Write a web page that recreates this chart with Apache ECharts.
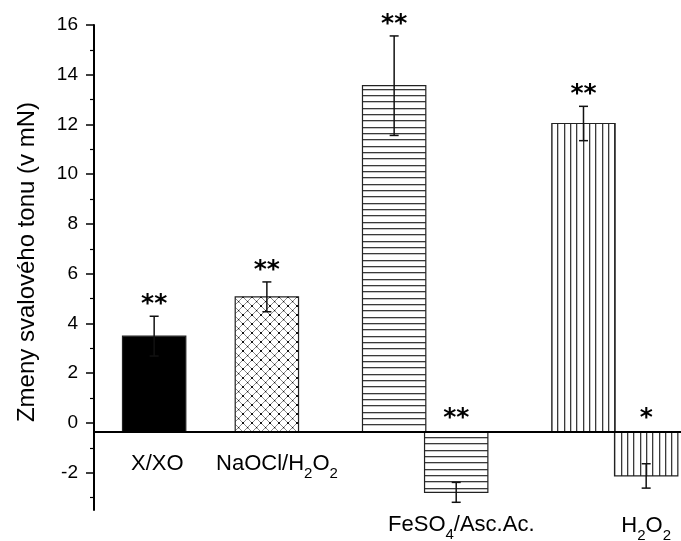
<!DOCTYPE html>
<html>
<head>
<meta charset="utf-8">
<script src="https://cdn.jsdelivr.net/npm/echarts@6/dist/echarts.min.js"></script>
<style>
html,body{margin:0;padding:0;background:#fff;}
#chart{width:681px;height:541px;}
</style>
</head>
<body>
<div id="chart"></div>
<script>
// ---- data ----
const categories = ['X/XO', 'NaOCl/H2O2', 'FeSO4/Asc.Ac.', 'H2O2'];
const barCategory = [0, 1, 2, 2, 3, 3];
const barValues = [3.49, 5.07, 13.56, -2.79, 12.04, -2.13];
const barErrors = [0.8, 0.6, 2.0, 0.4, 0.69, 0.49];
const barSignificance = ['**', '**', '**', '**', '**', '*'];
const barFill = ['solid', 'crosshatch', 'horizontal', 'horizontal', 'vertical', 'vertical'];
const yTickLabels = [-2, 0, 2, 4, 6, 8, 10, 12, 14, 16];
const yMinorTicks = [-3, -1, 1, 3, 5, 7, 9, 11, 13, 15];
const yAxisTitle = 'Zmeny svalového tonu (v mN)';
const yMin = -3.5, yMax = 16;
const baseline = -0.36;

// ---- layout (not data) ----
const layout = {
  barX: [0.95, 2.73, 4.74, 5.72, 7.73, 8.72],
  xMax: 9.27,
  catLabelBar: [0, 1, 3, 5],
  catLabelShift: [0.05, 0.16, 0.08, 0.0],
  catLabelY: [-1.74, -1.74, -4.2, -4.24]
};

// ---- patterns ----
function makePattern(kind) {
  const c = document.createElement('canvas');
  let ctx;
  if (kind === 'crosshatch') {
    c.width = 9; c.height = 9; ctx = c.getContext('2d');
    ctx.fillStyle = '#fff'; ctx.fillRect(0, 0, 9, 9);
    ctx.strokeStyle = '#8a8a8a'; ctx.lineWidth = 1;
    ctx.beginPath();
    ctx.moveTo(-1, -1); ctx.lineTo(10, 10);
    ctx.moveTo(10, -1); ctx.lineTo(-1, 10);
    ctx.stroke();
    ctx.fillStyle = '#111';
    ctx.fillRect(4, 4, 1.2, 1.2);
    ctx.fillRect(0, 0, 1, 1); ctx.fillRect(8, 0, 1, 1); ctx.fillRect(0, 8, 1, 1); ctx.fillRect(8, 8, 1, 1);
  } else if (kind === 'horizontal') {
    c.width = 4; c.height = 19; ctx = c.getContext('2d');
    ctx.fillStyle = '#fff'; ctx.fillRect(0, 0, 4, 19);
    ctx.fillStyle = '#3a3a3a';
    [0, 6, 13].forEach(y => ctx.fillRect(0, y, 4, 1.3));
  } else if (kind === 'vertical') {
    c.width = 19; c.height = 4; ctx = c.getContext('2d');
    ctx.fillStyle = '#fff'; ctx.fillRect(0, 0, 19, 4);
    ctx.fillStyle = '#3a3a3a';
    [0, 6, 13].forEach(x => ctx.fillRect(x, 0, 1.3, 4));
  }
  return { image: c, repeat: 'repeat' };
}
const fills = {
  solid: '#000',
  crosshatch: makePattern('crosshatch'),
  horizontal: makePattern('horizontal'),
  vertical: makePattern('vertical')
};

const seriesData = barValues.map((v, i) => [layout.barX[i], v, barErrors[i], i]);

function renderItem(params, api) {
  const i = api.value(3);
  const x = api.value(0), v = api.value(1), e = api.value(2);
  const left = api.coord([x - 0.5, baseline])[0];
  const right = api.coord([x + 0.5, baseline])[0];
  const cx = api.coord([x, baseline])[0];
  const yBase = api.coord([x, baseline])[1];
  const yVal = api.coord([x, v])[1];
  const yHi = api.coord([x, v + e])[1];
  const yLo = api.coord([x, v - e])[1];
  const starVal = v > 0 ? v + e + 0.68 : baseline + 0.72;
  const yStar = api.coord([x, starVal])[1];
  const cap = 4.5;
  const errStyle = { stroke: '#111', lineWidth: 1.5 };
  return {
    type: 'group',
    children: [
      {
        type: 'rect',
        shape: { x: left, y: Math.min(yBase, yVal), width: right - left, height: Math.abs(yVal - yBase) },
        style: { fill: fills[barFill[i]], stroke: '#222', lineWidth: 1.2 }
      },
      { type: 'line', shape: { x1: cx, y1: yLo, x2: cx, y2: yHi }, style: errStyle },
      { type: 'line', shape: { x1: cx - cap, y1: yHi, x2: cx + cap, y2: yHi }, style: errStyle },
      { type: 'line', shape: { x1: cx - cap, y1: yLo, x2: cx + cap, y2: yLo }, style: errStyle },
      {
        type: 'text',
        style: {
          text: barSignificance[i], x: cx, y: yStar + 5,
          font: 'bold 25px "DejaVu Sans"', fill: '#000',
          align: 'center', verticalAlign: 'middle'
        }
      }
    ]
  };
}

const chart = echarts.init(document.getElementById('chart'), null, { renderer: 'canvas' });
chart.setOption({
  animation: false,
  backgroundColor: '#fff',
  grid: { left: 94, right: 0, top: 25, bottom: 31, containLabel: false },
  xAxis: { type: 'value', min: 0, max: layout.xMax, show: false },
  yAxis: [
    {
      type: 'value', min: yMin, max: yMax, position: 'left',
      axisLine: { show: true, lineStyle: { color: '#000', width: 2 } },
      axisTick: { show: true, length: 8, inside: false, customValues: yTickLabels, lineStyle: { color: '#000', width: 1.5 } },
      axisLabel: { show: true, customValues: yTickLabels, margin: 16, color: '#000', fontSize: 19, fontFamily: '"Liberation Sans", Arial, sans-serif' },
      splitLine: { show: false }
    },
    {
      type: 'value', min: yMin, max: yMax, position: 'left',
      axisLine: { show: false },
      axisTick: { show: true, length: 4, inside: false, customValues: yMinorTicks, lineStyle: { color: '#000', width: 1.2 } },
      axisLabel: { show: false },
      splitLine: { show: false }
    }
  ],
  series: [{
    type: 'custom',
    renderItem: renderItem,
    clip: false,
    encode: { x: 0, y: 1 },
    data: seriesData,
    markLine: {
      silent: true,
      symbol: ['none', 'none'],
      label: { show: false },
      lineStyle: { color: '#000', width: 2, type: 'solid' },
      data: [{ yAxis: baseline }]
    },
    z: 2
  }]
});

function richLabel(t) {
  const parts = t.split(/(\d)/).filter(s => s.length);
  return parts.map(p => /^\d$/.test(p) ? '{s|' + p + '}' : '{m|' + p + '}').join('');
}

const graphics = [];
categories.forEach((name, k) => {
  const bx = layout.barX[layout.catLabelBar[k]] + layout.catLabelShift[k];
  const p = chart.convertToPixel({ gridIndex: 0 }, [bx, layout.catLabelY[k]]);
  graphics.push({
    type: 'text', x: p[0], y: p[1] - 13, z: 10,
    style: {
      text: richLabel(name), align: 'center', verticalAlign: 'top',
      rich: {
        m: { fontSize: 22, lineHeight: 26, fontFamily: '"Liberation Sans", Arial, sans-serif', fill: '#000', verticalAlign: 'top' },
        s: { fontSize: 15, lineHeight: 16, padding: [13, 0, 0, 0], fontFamily: '"Liberation Sans", Arial, sans-serif', fill: '#000', verticalAlign: 'top' }
      }
    }
  });
});
graphics.push({
  type: 'text', x: 27, y: 262, rotation: Math.PI / 2, z: 10,
  style: {
    text: yAxisTitle, align: 'center', verticalAlign: 'middle',
    font: '24px "Liberation Sans", Arial, sans-serif', fill: '#000'
  }
});
chart.setOption({ graphic: graphics });
</script>
</body>
</html>
